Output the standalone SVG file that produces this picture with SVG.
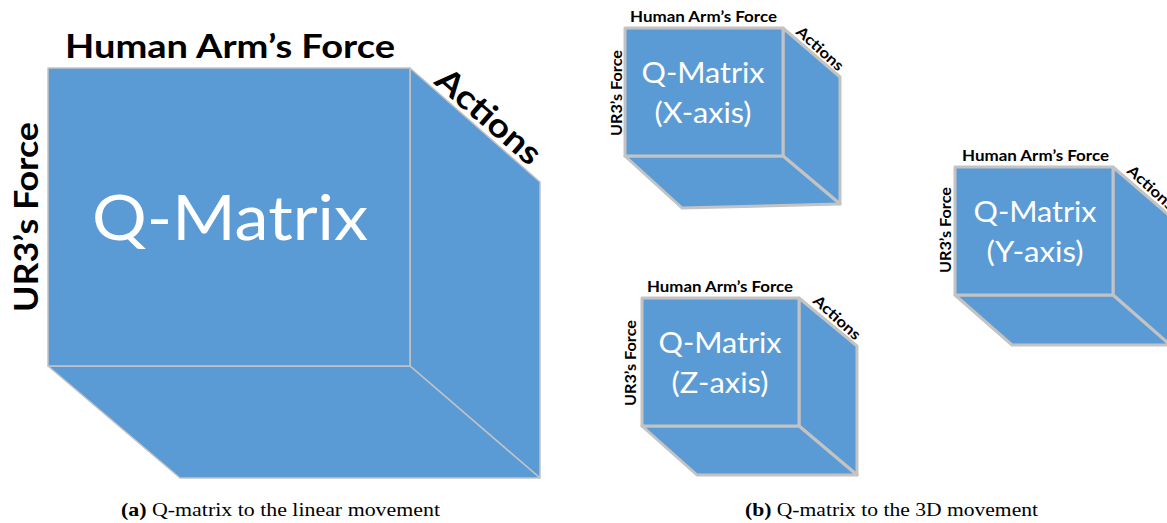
<svg xmlns="http://www.w3.org/2000/svg" width="1167" height="523" viewBox="0 0 1167 523">
<style>
.face{fill:#5b9bd5;stroke:#c3c3c3;stroke-linejoin:round}
.big .face{stroke-width:1.5}
.small .face{stroke-width:3}
.lbl{font-family:Lato,"Open Sans",sans-serif;font-weight:bold;fill:#000}
.q{font-family:Lato,"Open Sans",sans-serif;fill:#fff;text-anchor:middle}
.cap{font-family:"Liberation Serif",serif;font-size:19px;fill:#000}
</style>
<rect width="1167" height="523" fill="#fff"/>
<g id="cube-linear" class="big">
<polygon class="face" points="410,68 540,182 540,478 410,366"/>
<polygon class="face" points="48,366 410,366 540,478 180,478"/>
<rect class="face" x="48" y="68" width="362" height="298"/>
<text class="lbl" x="65" y="58" font-size="33" textLength="330" lengthAdjust="spacingAndGlyphs">Human Arm’s Force</text>
<text class="lbl" font-size="33" transform="translate(433,83) rotate(41)" textLength="128" lengthAdjust="spacingAndGlyphs">Actions</text>
<text class="lbl" font-size="33" transform="translate(38,312) rotate(-90)" textLength="190" lengthAdjust="spacingAndGlyphs">UR3’s Force</text>
<text class="q" x="230" y="240" font-size="62" textLength="276" lengthAdjust="spacingAndGlyphs">Q-Matrix</text>
</g>
<g id="cube-x" class="small">
<polygon class="face" points="783,28 840,77 840,204 783,156"/>
<polygon class="face" points="625,156 783,156 840,204 682,208"/>
<rect class="face" x="625" y="28" width="158" height="128"/>
<text class="lbl" x="630" y="22" font-size="15" textLength="147" lengthAdjust="spacingAndGlyphs">Human Arm’s Force</text>
<text class="lbl" font-size="15" transform="translate(795,33) rotate(42)" textLength="58" lengthAdjust="spacingAndGlyphs">Actions</text>
<text class="lbl" font-size="15" transform="translate(622,136) rotate(-90)" textLength="86" lengthAdjust="spacingAndGlyphs">UR3’s Force</text>
<text class="q" x="703" y="83" font-size="29" textLength="123" lengthAdjust="spacingAndGlyphs">Q-Matrix</text>
<text class="q" x="703" y="123" font-size="29" textLength="97" lengthAdjust="spacingAndGlyphs">(X-axis)</text>
</g>
<g id="cube-y" class="small">
<polygon class="face" points="1113,167 1170,216 1170,345 1113,295"/>
<polygon class="face" points="955,295 1113,295 1170,345 1012,345"/>
<rect class="face" x="955" y="167" width="158" height="128"/>
<text class="lbl" x="962" y="161" font-size="15" textLength="147" lengthAdjust="spacingAndGlyphs">Human Arm’s Force</text>
<text class="lbl" font-size="15" transform="translate(1126,172) rotate(42)" textLength="58" lengthAdjust="spacingAndGlyphs">Actions</text>
<text class="lbl" font-size="15" transform="translate(951,273) rotate(-90)" textLength="86" lengthAdjust="spacingAndGlyphs">UR3’s Force</text>
<text class="q" x="1035" y="222" font-size="29" textLength="123" lengthAdjust="spacingAndGlyphs">Q-Matrix</text>
<text class="q" x="1035" y="262" font-size="29" textLength="97" lengthAdjust="spacingAndGlyphs">(Y-axis)</text>
</g>
<g id="cube-z" class="small">
<polygon class="face" points="799,298 857,346 857,475 799,426"/>
<polygon class="face" points="642,426 799,426 857,475 697,475"/>
<rect class="face" x="642" y="298" width="157" height="128"/>
<text class="lbl" x="647" y="292" font-size="15" textLength="146" lengthAdjust="spacingAndGlyphs">Human Arm’s Force</text>
<text class="lbl" font-size="15" transform="translate(812,302) rotate(42)" textLength="58" lengthAdjust="spacingAndGlyphs">Actions</text>
<text class="lbl" font-size="15" transform="translate(636,406) rotate(-90)" textLength="86" lengthAdjust="spacingAndGlyphs">UR3’s Force</text>
<text class="q" x="720" y="353" font-size="29" textLength="123" lengthAdjust="spacingAndGlyphs">Q-Matrix</text>
<text class="q" x="720" y="393" font-size="29" textLength="97" lengthAdjust="spacingAndGlyphs">(Z-axis)</text>
</g>
<g id="connectors"></g>
<text class="cap" x="121" y="516" textLength="319" lengthAdjust="spacingAndGlyphs"><tspan font-weight="bold">(a)</tspan> Q-matrix to the linear movement</text>
<text class="cap" x="745" y="516" textLength="293" lengthAdjust="spacingAndGlyphs"><tspan font-weight="bold">(b)</tspan> Q-matrix to the 3D movement</text>
</svg>
